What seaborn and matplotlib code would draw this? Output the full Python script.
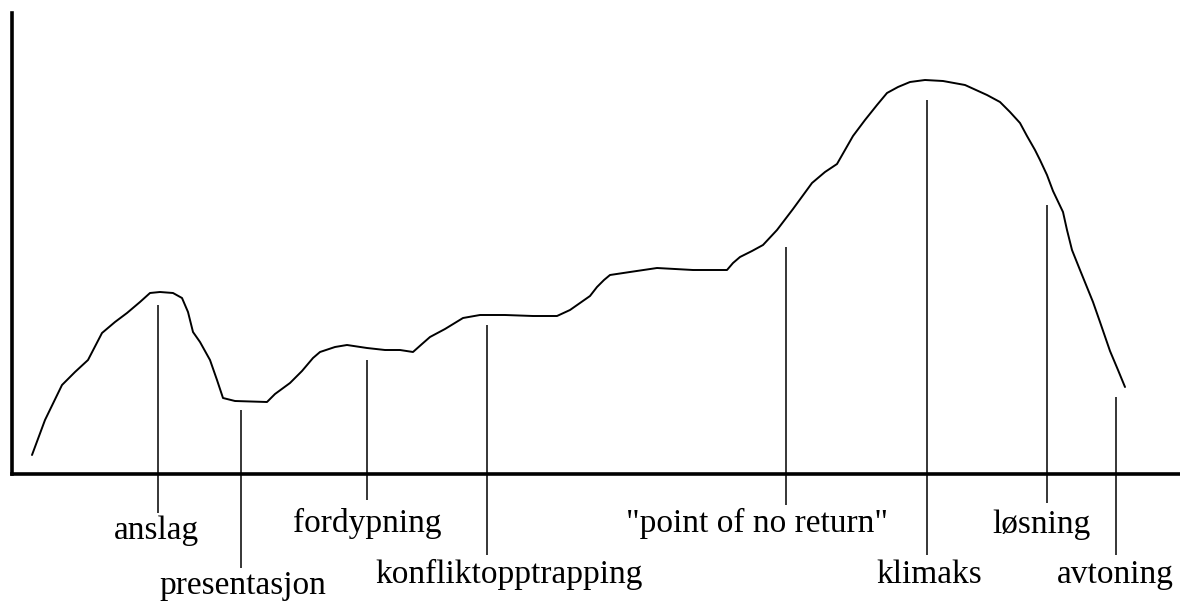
import pandas as pd
import seaborn as sns
import matplotlib.pyplot as plt

# Spenningskurve (fortellingens dramaturgi)
tid = [20, 33, 50, 63, 76, 90, 103, 115, 128, 138, 148, 161, 170, 176, 181, 188,
       198, 205, 211, 223, 255, 263, 278, 290, 301, 308, 323, 335, 355, 373, 388,
       401, 410, 418, 433, 451, 468, 493, 521, 545, 558, 568, 578, 585, 592, 598,
       618, 645, 681, 715, 721, 728, 740, 751, 765, 781, 800, 813, 825, 833, 841,
       853, 865, 875, 886, 898, 913, 931, 953, 975, 988, 998, 1008, 1015, 1023,
       1028, 1035, 1041, 1051, 1055, 1060, 1068, 1081, 1088, 1098, 1106, 1113]
spenning = [19, 54, 89, 102, 114, 141, 152, 161, 172, 181, 182, 181, 176, 162, 142,
            132, 114, 94, 76, 73, 72, 80, 91, 103, 116, 122, 127, 129, 126, 124,
            124, 122, 130, 137, 145, 156, 159, 159, 158, 158, 164, 171, 178, 187,
            194, 199, 202, 206, 204, 204, 211, 217, 223, 229, 244, 265, 291, 302,
            310, 324, 338, 354, 369, 381, 387, 392, 394, 393, 389, 379, 372, 362,
            351, 338, 324, 314, 299, 283, 262, 244, 224, 204, 172, 152, 123, 104, 87]

# Faser i fortellingen
faser = ['anslag', 'presentasjon', 'fordypning', 'konfliktopptrapping',
         '"point of no return"', 'klimaks', 'løsning', 'avtoning']
fase_tid = [146, 229, 355, 475, 774, 915, 1035, 1104]
linje_topp = [169, 64, 114, 149, 227, 374, 269, 77]
linje_bunn = [-39, -94, -26, -81, -31, -81, -29, -81]

# plassering av tekstene under aksen
tekst_x = [144, 231, 355, 497, 745, 917, 1029, 1103]
tekst_y = [-65, -120, -58, -109, -58, -109, -59, -109]

sns.set_theme(style='white')
plt.rcParams['font.family'] = ['Liberation Serif', 'DejaVu Serif']

df = pd.DataFrame({'tid': tid, 'spenning': spenning})

fig = plt.figure(figsize=(11.8, 6.01), dpi=100)
ax = fig.add_axes([12 / 1180, 127 / 601, 1168 / 1180, 461 / 601])

sns.lineplot(data=df, x='tid', y='spenning', sort=False, color='black',
             linewidth=1.4, ax=ax)

ax.vlines(fase_tid, linje_bunn, linje_topp, color='black', linewidth=1.1,
          clip_on=False)
for navn, x, y in zip(faser, tekst_x, tekst_y):
    ax.text(x, y, navn, ha='center', va='baseline', fontsize=24, color='black')

ax.set_xlim(0, 1168)
ax.set_ylim(0, 461)
ax.set_xticks([])
ax.set_yticks([])
ax.set_xlabel('')
ax.set_ylabel('')
for side in ['top', 'right']:
    ax.spines[side].set_visible(False)
for side in ['left', 'bottom']:
    ax.spines[side].set_color('black')
    ax.spines[side].set_linewidth(2.6)

fig.savefig('out.png', dpi=100)
